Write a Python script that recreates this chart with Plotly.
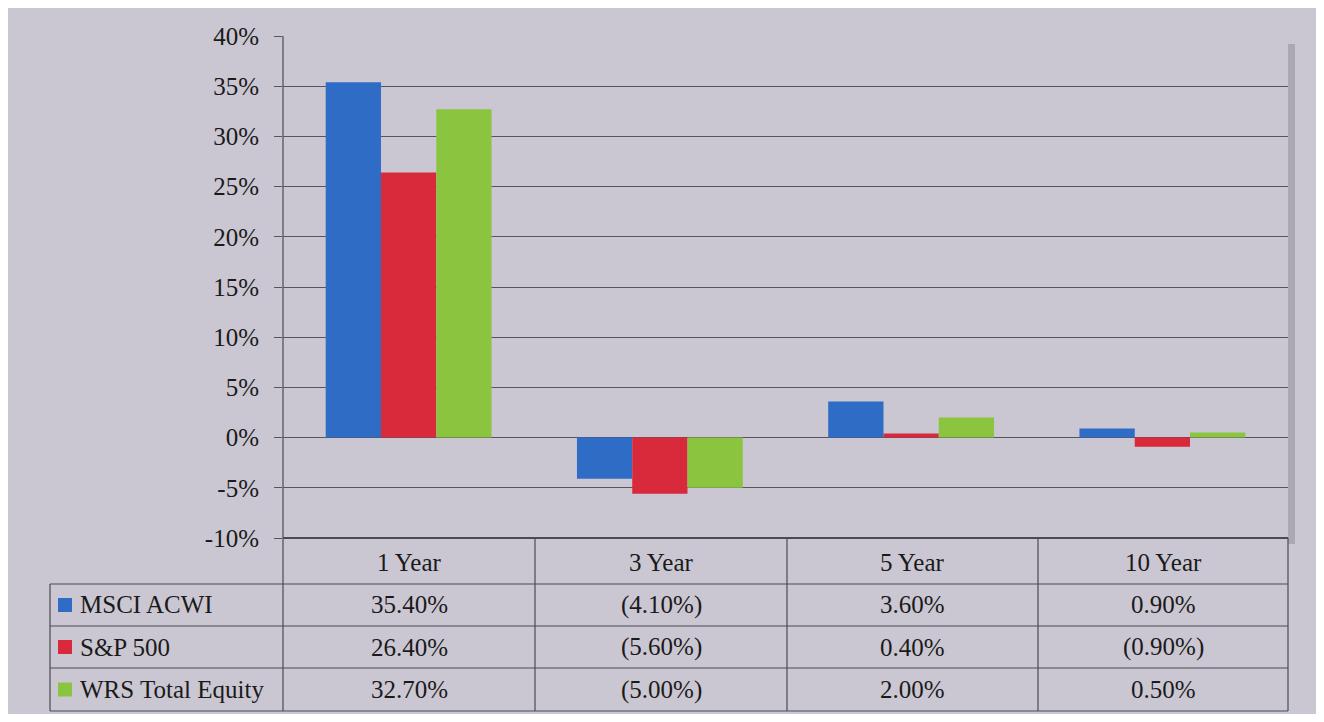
import plotly.graph_objects as go

categories = ["1 Year", "3 Year", "5 Year", "10 Year"]
series_names = ["MSCI ACWI", "S&P 500", "WRS Total Equity"]
msci_acwi = [35.4, -4.1, 3.6, 0.9]
sp500 = [26.4, -5.6, 0.4, -0.9]
wrs_total_equity = [32.7, -5.0, 2.0, 0.5]
y_ticks = [-10, -5, 0, 5, 10, 15, 20, 25, 30, 35, 40]
y_tick_labels = [f"{v}%" for v in y_ticks]

series_values = [msci_acwi, sp500, wrs_total_equity]
colors = ["#2f6cc6", "#d92a3c", "#8bc540"]

OFF = 8  # browser body margin
W, H = 1324 - 2 * OFF, 722 - 2 * OFF
PL, PR, PT, PB = 283, 1288, 36, 538  # plot area in screen pixels
FONT = "Liberation Serif, Times New Roman, serif"
FS = 25
BG = "#cac7d2"


def px(x):
    return (x - PL) / (PR - PL)


def py(y):
    return (PB - y) / (PB - PT)


def fmt(v):
    return f"({abs(v):.2f}%)" if v < 0 else f"{v:.2f}%"


fig = go.Figure()
for name, vals, col in zip(series_names, series_values, colors):
    fig.add_trace(go.Bar(
        x=categories, y=vals, name=name,
        marker=dict(color=col, line=dict(width=0)),
        showlegend=False,
    ))

shapes = []
annotations = []
line_col = "#4a4a52"

# plot shadow on right
shapes.append(dict(type="rect", xref="paper", yref="paper",
                   x0=px(1288), x1=px(1295), y0=py(544), y1=py(44),
                   fillcolor="#aba8b4", line=dict(width=0), layer="below"))

# table geometry
col_edges = [283, 535, 787, 1038, 1288]
row_edges = [538, 584, 626, 668, 711]
left_x = 50

# vertical lines
shapes.append(dict(type="line", xref="paper", yref="paper", x0=px(283), x1=px(283),
                   y0=py(PT), y1=py(row_edges[-1]), line=dict(color=line_col, width=1.2)))
for cx in col_edges[1:]:
    shapes.append(dict(type="line", xref="paper", yref="paper", x0=px(cx), x1=px(cx),
                       y0=py(row_edges[0]), y1=py(row_edges[-1]), line=dict(color=line_col, width=1.2)))
shapes.append(dict(type="line", xref="paper", yref="paper", x0=px(left_x), x1=px(left_x),
                   y0=py(row_edges[1]), y1=py(row_edges[-1]), line=dict(color=line_col, width=1.2)))
# horizontal lines
shapes.append(dict(type="line", xref="paper", yref="paper", x0=px(283), x1=px(1288),
                   y0=py(row_edges[0]), y1=py(row_edges[0]), line=dict(color=line_col, width=1.8)))
for ry in row_edges[1:]:
    shapes.append(dict(type="line", xref="paper", yref="paper", x0=px(left_x), x1=px(1288),
                       y0=py(ry), y1=py(ry), line=dict(color=line_col, width=1.2)))

# header
for i, cat in enumerate(categories):
    annotations.append(dict(xref="paper", yref="paper",
                            x=px((col_edges[i] + col_edges[i + 1]) / 2),
                            y=py((row_edges[0] + row_edges[1]) / 2 + 1),
                            xanchor="center", yanchor="middle",
                            text=cat, showarrow=False,
                            font=dict(family=FONT, size=FS, color="#1a1a1a")))
# rows
for r, (name, vals, col) in enumerate(zip(series_names, series_values, colors)):
    yc = (row_edges[r + 1] + row_edges[r + 2]) / 2
    shapes.append(dict(type="rect", xref="paper", yref="paper",
                       x0=px(58), x1=px(72), y0=py(yc + 7), y1=py(yc - 7),
                       fillcolor=col, line=dict(width=0)))
    annotations.append(dict(xref="paper", yref="paper", x=px(78), y=py(yc),
                            xanchor="left", yanchor="middle", text=name, showarrow=False,
                            font=dict(family=FONT, size=FS, color="#1a1a1a")))
    for i, v in enumerate(vals):
        annotations.append(dict(xref="paper", yref="paper",
                                x=px((col_edges[i] + col_edges[i + 1]) / 2), y=py(yc),
                                xanchor="center", yanchor="middle",
                                text=fmt(v), showarrow=False,
                                font=dict(family=FONT, size=FS, color="#1a1a1a")))

fig.update_layout(
    width=W, height=H,
    margin=dict(l=PL - OFF, r=(W + OFF) - PR, t=PT - OFF, b=(H + OFF) - PB, pad=0),
    paper_bgcolor=BG,
    plot_bgcolor=BG,
    barmode="group",
    bargap=0.34,
    bargroupgap=0,
    shapes=shapes,
    annotations=annotations,
    xaxis=dict(showticklabels=False, showgrid=False, zeroline=False, showline=False,
               ticks=""),
    yaxis=dict(range=[-10, 40], tickvals=y_ticks, ticktext=y_tick_labels,
               showgrid=True, gridcolor="#55555c", gridwidth=1.2,
               zeroline=True, zerolinecolor="#55555c", zerolinewidth=1.2,
               showline=False, ticks="outside", ticklen=8, tickcolor="#55555c",
               ticklabelstandoff=10,
               tickfont=dict(family=FONT, size=FS, color="#1a1a1a")),
)

fig.write_html("out.html")
